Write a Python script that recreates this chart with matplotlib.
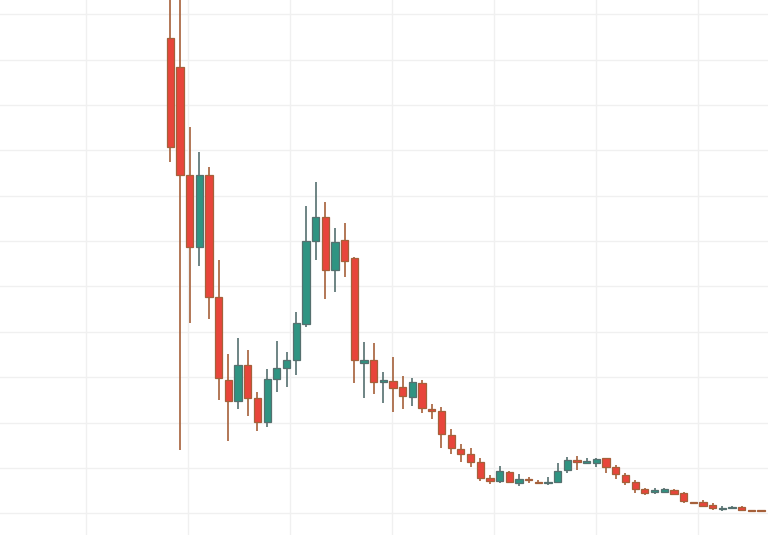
import matplotlib
matplotlib.use("Agg")
import matplotlib.pyplot as plt
import numpy as np

# OHLC values (arbitrary price units)
opens = [104.8, 98.4, 74.6, 58.8, 74.6, 47.7, 29.4, 24.8, 32.7, 25.4,
         20.1, 29.6, 32.0, 33.8, 41.7, 60.1, 65.4, 53.6, 60.2, 56.2,
         33.1, 33.9, 29.0, 29.2, 27.8, 25.7, 28.8, 23.1, 22.5, 17.3,
         14.1, 13.0, 11.2, 7.8, 7.1, 9.2, 6.6, 7.6, 7.0, 6.7,
         6.8, 9.5, 11.7, 11.1, 11.0, 12.1, 10.1, 8.4, 7.0, 5.3,
         4.6, 4.8, 5.1, 4.4, 2.6, 2.6, 1.8, 0.9, 1.1, 1.5,
         0.7, 0.7]
highs = [114.2, 114.2, 85.2, 79.7, 76.4, 55.8, 35.1, 38.6, 36.0, 26.7,
         31.8, 38.0, 35.6, 44.4, 67.7, 73.1, 68.7, 62.9, 64.0, 56.5,
         37.8, 37.5, 31.2, 34.4, 30.3, 29.8, 29.4, 24.2, 23.5, 18.5,
         15.2, 14.3, 12.3, 8.4, 10.5, 9.4, 8.7, 8.1, 7.3, 7.9,
         11.0, 12.5, 12.6, 12.1, 12.3, 12.2, 10.6, 8.9, 7.3, 5.6,
         5.5, 5.6, 5.3, 4.8, 2.6, 2.9, 2.2, 1.7, 1.7, 1.6,
         0.7, 0.7]
lows = [77.5, 14.0, 41.9, 54.5, 42.8, 25.0, 15.9, 23.0, 21.4, 18.1,
        19.0, 26.7, 27.8, 30.5, 41.1, 55.8, 47.2, 48.7, 52.1, 28.7,
        25.4, 26.2, 24.4, 22.4, 22.9, 23.6, 22.2, 20.8, 14.3, 13.1,
        11.2, 10.3, 7.2, 6.5, 6.7, 6.7, 6.1, 6.7, 6.4, 6.2,
        6.6, 8.9, 9.5, 10.9, 10.3, 8.8, 7.6, 6.2, 4.5, 4.0,
        4.3, 4.4, 4.0, 2.3, 2.3, 1.5, 0.7, 0.6, 0.9, 0.6,
        0.4, 0.4]
closes = [80.7, 74.6, 58.8, 74.6, 47.7, 29.8, 24.8, 32.7, 25.4, 20.1,
          29.6, 32.0, 33.8, 41.9, 60.1, 65.4, 53.6, 59.9, 55.6, 33.9,
          33.8, 29.0, 29.4, 27.6, 25.9, 29.0, 23.3, 22.5, 17.4, 14.3,
          13.1, 11.4, 7.8, 7.2, 9.3, 6.8, 7.6, 7.3, 6.7, 7.0,
          9.4, 11.7, 11.4, 11.6, 12.0, 10.1, 8.6, 7.0, 5.4, 4.5,
          5.1, 5.3, 4.2, 2.7, 2.3, 1.6, 1.1, 1.2, 1.3, 0.7,
          0.4, 0.4]

o = np.array(opens); h = np.array(highs); l = np.array(lows); c = np.array(closes)
idx = np.arange(len(o))
up = c >= o

UP_FILL, UP_EDGE = "#2f9482", "#55706f"
DN_FILL, DN_EDGE = "#e8453b", "#a5603a"

fig = plt.figure(figsize=(7.68, 5.35), dpi=100)
ax = fig.add_axes([0, 0, 1, 1])
ax.set_facecolor("white")

# grid
for gx in np.arange(-8.7, 62, 10.53):
    ax.axvline(gx, color="#f0f0f0", lw=1, zorder=0)
for gy in np.arange(0, 120, 10):
    ax.axhline(gy, color="#f0f0f0", lw=1, zorder=0)

# wicks
ax.vlines(idx[up], l[up], h[up], color=UP_EDGE, lw=1.2, zorder=2)
ax.vlines(idx[~up], l[~up], h[~up], color=DN_EDGE, lw=1.2, zorder=2)

# bodies
w = 0.75
ax.bar(idx[up], np.maximum(c[up] - o[up], 0.15), bottom=o[up], width=w,
       color=UP_FILL, edgecolor=UP_EDGE, linewidth=0.9, zorder=3)
ax.bar(idx[~up], np.maximum(o[~up] - c[~up], 0.15), bottom=c[~up], width=w,
       color=DN_FILL, edgecolor=DN_EDGE, linewidth=0.9, zorder=3)

ax.set_xlim(-17.59, 61.72)
ax.set_ylim(-4.78, 113.14)
for s in ax.spines.values():
    s.set_visible(False)
ax.set_xticks([]); ax.set_yticks([])

fig.savefig("out.png", dpi=100)
